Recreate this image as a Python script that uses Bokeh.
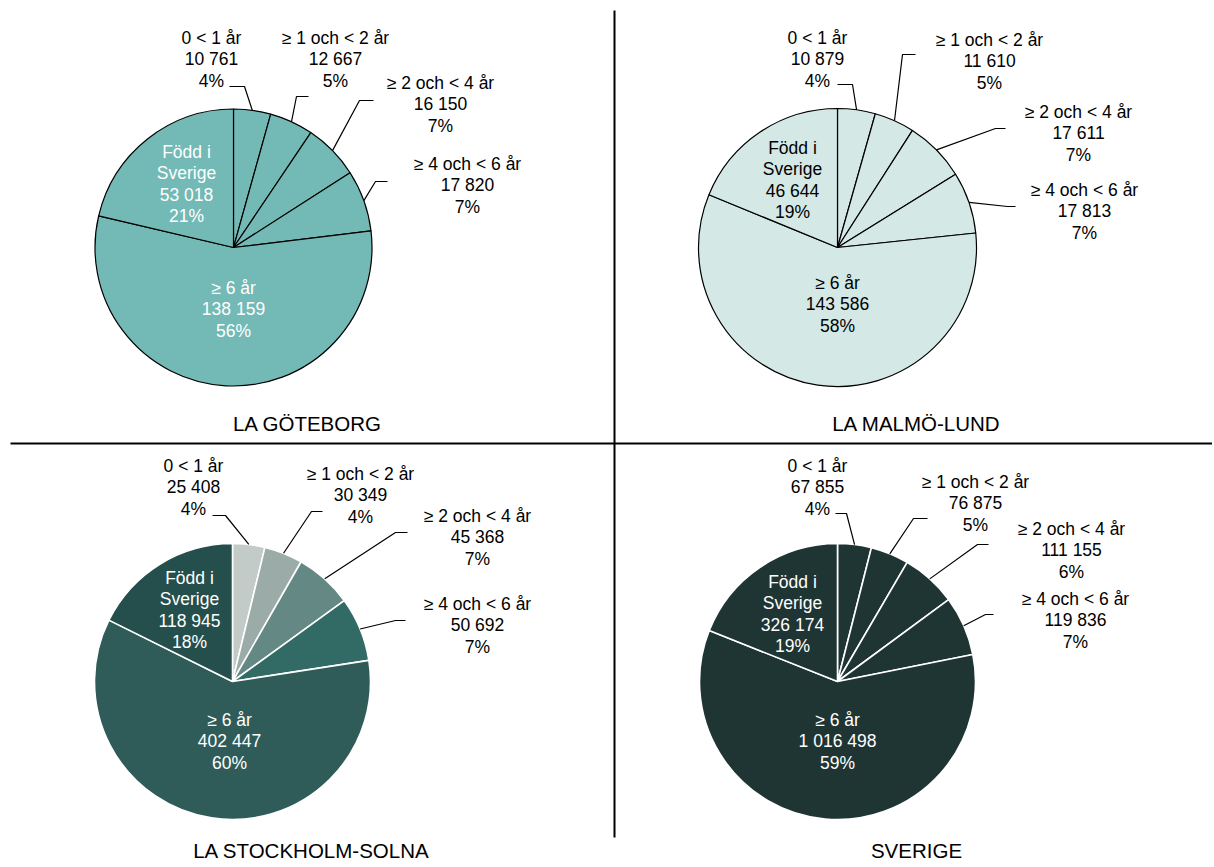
import math
from bokeh.plotting import figure
from bokeh.models import Range1d
from bokeh.embed import file_html
from bokeh.resources import INLINE
from bokeh.core.properties import value

# ---------------- data ----------------
categories = ["0 < 1 år", "≥ 1 och < 2 år", "≥ 2 och < 4 år", "≥ 4 och < 6 år", "≥ 6 år", "Född i\nSverige"]
goteborg = [10761, 12667, 16150, 17820, 138159, 53018]
goteborg_pct = [4, 5, 7, 7, 56, 21]
malmo = [10879, 11610, 17611, 17813, 143586, 46644]
malmo_pct = [4, 5, 7, 7, 58, 19]
stockholm = [25408, 30349, 45368, 50692, 402447, 118945]
stockholm_pct = [4, 4, 7, 7, 60, 18]
sverige = [67855, 76875, 111155, 119836, 1016498, 326174]
sverige_pct = [4, 5, 6, 7, 59, 19]
titles = ["LA GÖTEBORG", "LA MALMÖ-LUND", "LA STOCKHOLM-SOLNA", "SVERIGE"]

# ---------------- layout (image pixel coords) ----------------
FONT = value("Liberation Sans")
FS = "17.5px"
LH = 21.6

panels = [
    dict(values=goteborg, pct=goteborg_pct, title=titles[0], cx=233, cy=247, r=138.5,
         colors=["#73B9B5"] * 6, edge="#000000", edge_w=1.2,
         text_colors=["#000000"] * 4 + ["#FFFFFF", "#FFFFFF"],
         labels=[(211, 37), (335, 37), (440, 82), (467, 163), (233, 287), (186, 151)],
         elbows=[((244, 86), (229, 86)), ((296, 96), (308, 96)), ((359, 100), (373, 100)), ((375, 181), (387, 181))],
         title_pos=(307, 423)),
    dict(values=malmo, pct=malmo_pct, title=titles[1], cx=837, cy=247, r=139,
         colors=["#D4E8E6"] * 6, edge="#000000", edge_w=1.2,
         text_colors=["#000000"] * 6,
         labels=[(817, 37), (989, 39), (1078, 111), (1084, 189), (837, 282), (792, 147)],
         elbows=[((852, 84), (837, 84)), ((902, 54), (915, 54)), ((995, 128), (1005, 128)), ((1007, 206), (1015, 206))],
         title_pos=(916, 423)),
    dict(values=stockholm, pct=stockholm_pct, title=titles[2], cx=232, cy=681, r=138,
         colors=["#C3CBC9", "#9BABA8", "#648883", "#326A66", "#2F5C59", "#254F4C"], edge="#FFFFFF", edge_w=1.6,
         text_colors=["#000000"] * 4 + ["#FFFFFF", "#FFFFFF"],
         labels=[(193, 465), (360, 473), (477, 515), (477, 603), (229, 719), (189, 577)],
         elbows=[((225, 515), (212, 515)), ((311, 511), (322, 511)), ((395, 532), (407, 532)), ((395, 620), (405, 620))],
         title_pos=(311, 850)),
    dict(values=sverige, pct=sverige_pct, title=titles[3], cx=837, cy=681, r=138,
         colors=["#1F3534"] * 6, edge="#FFFFFF", edge_w=1.6,
         text_colors=["#000000"] * 4 + ["#FFFFFF", "#FFFFFF"],
         labels=[(817, 465), (975, 481), (1071, 528), (1075, 598), (837, 719), (792, 581)],
         elbows=[((846, 513), (835, 513)), ((913, 518), (927, 518)), ((977, 544), (988, 544)), ((985, 614), (993, 614))],
         title_pos=(916, 850)),
]

W, Hh = 1212, 865
p = figure(width=W, height=Hh, output_backend="svg", toolbar_location=None,
           x_range=Range1d(0, W), y_range=Range1d(0, Hh),
           x_axis_location=None, y_axis_location=None, min_border=0)
p.grid.visible = False
p.outline_line_color = None
p.background_fill_color = "#FFFFFF"
p.border_fill_color = "#FFFFFF"


def Y(y):
    return Hh - y


def fmt(v):
    return f"{v:,}".replace(",", " ")


for pn in panels:
    vals = pn["values"]
    total = float(sum(vals))
    cx, cy, r = pn["cx"], Y(pn["cy"]), pn["r"]
    starts, ends, mids = [], [], []
    cum = 0.0
    for v in vals:
        a0 = math.pi / 2 - cum / total * 2 * math.pi
        cum += v
        a1 = math.pi / 2 - cum / total * 2 * math.pi
        starts.append(a0)
        ends.append(a1)
        mids.append((a0 + a1) / 2)
    p.wedge(x=[cx] * len(vals), y=[cy] * len(vals), radius=r,
            start_angle=starts, end_angle=ends, direction="clock",
            fill_color=pn["colors"], line_color=pn["edge"], line_width=pn["edge_w"])

    # leader lines for the small slices
    xs, ys = [], []
    for i, (elb, end) in enumerate(pn["elbows"]):
        sx = cx + r * math.cos(mids[i])
        sy = cy + r * math.sin(mids[i])
        xs.append([sx, elb[0], end[0]])
        ys.append([sy, Y(elb[1]), Y(end[1])])
    p.multi_line(xs=xs, ys=ys, line_color="#000000", line_width=1.2)

    # labels
    tx, ty, tt, tc = [], [], [], []
    for i, cat in enumerate(categories):
        lines = cat.split("\n") + [fmt(vals[i]), f"{pn['pct'][i]}%"]
        lx, ly = pn["labels"][i]
        for k, ln in enumerate(lines):
            tx.append(lx)
            ty.append(Y(ly + k * LH))
            tt.append(ln)
            tc.append(pn["text_colors"][i])
    p.text(x=tx, y=ty, text=tt, text_color=tc, text_align="center", text_baseline="middle",
           text_font=FONT, text_font_size=FS)

    # panel title
    p.text(x=[pn["title_pos"][0]], y=[Y(pn["title_pos"][1])], text=[pn["title"]],
           text_align="center", text_baseline="middle", text_font=FONT,
           text_font_size="20.5px", text_color="#000000")

# divider lines
p.segment(x0=[614], y0=[Y(10)], x1=[614], y1=[Y(837)], line_color="#000000", line_width=2)
p.segment(x0=[10], y0=[Y(443)], x1=[W], y1=[Y(443)], line_color="#000000", line_width=2)

open("out.html", "w").write(file_html(p, INLINE))
